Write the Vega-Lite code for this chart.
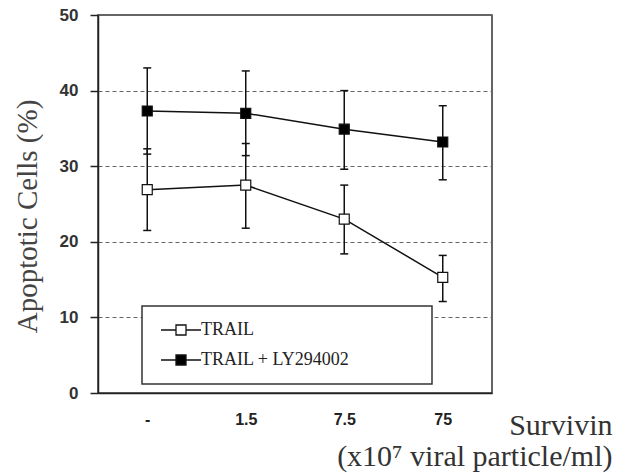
{
  "$schema": "https://vega.github.io/schema/vega-lite/v6.json",
  "width": 394,
  "height": 378,
  "autosize": "none",
  "padding": {"left": 98, "top": 15, "right": 136, "bottom": 80},
  "background": "white",
  "config": {
    "view": {"stroke": "#333", "strokeWidth": 1.5},
    "axisY": {
      "domainColor": "#222", "domainWidth": 1.5,
      "ticks": true, "tickSize": 8, "tickColor": "#222", "tickWidth": 1.5,
      "grid": true, "gridDash": [4, 3], "gridColor": "#666", "gridWidth": 1,
      "labelFont": "Liberation Sans", "labelFontWeight": "bold", "labelFontSize": 17, "labelColor": "#333", "labelPadding": 12,
      "titleFont": "Liberation Serif", "titleFontSize": 29, "titleFontWeight": "normal", "titleColor": "#444",
      "titleX": -62, "titleY": 201, "titleAlign": "center", "titleBaseline": "alphabetic", "titleAngle": 270
    },
    "axisX": {
      "domainColor": "#222", "domainWidth": 1.5,
      "ticks": false, "tickSize": 0, "grid": false,
      "labelAngle": 0,
      "labelFont": "Liberation Sans", "labelFontWeight": "bold", "labelFontSize": 16, "labelColor": "#222", "labelPadding": 18,
      "titleFont": "Liberation Serif", "titleFontSize": 30, "titleFontWeight": "normal", "titleColor": "#333",
      "titleX": 514, "titleY": 41, "titleAlign": "right", "titleBaseline": "alphabetic", "titleLineHeight": 31
    }
  },
  "data": {
    "values": [
      {"dose": "-", "series": "TRAIL", "mean": 26.9, "lo": 21.5, "hi": 32.3},
      {"dose": "1.5", "series": "TRAIL", "mean": 27.5, "lo": 21.8, "hi": 33.0},
      {"dose": "7.5", "series": "TRAIL", "mean": 23.0, "lo": 18.4, "hi": 27.5},
      {"dose": "75", "series": "TRAIL", "mean": 15.3, "lo": 12.1, "hi": 18.2},
      {"dose": "-", "series": "TRAIL + LY294002", "mean": 37.3, "lo": 31.6, "hi": 43.0},
      {"dose": "1.5", "series": "TRAIL + LY294002", "mean": 37.0, "lo": 31.4, "hi": 42.6},
      {"dose": "7.5", "series": "TRAIL + LY294002", "mean": 34.9, "lo": 29.6, "hi": 40.0},
      {"dose": "75", "series": "TRAIL + LY294002", "mean": 33.2, "lo": 28.2, "hi": 38.0}
    ]
  },
  "encoding": {
    "x": {
      "field": "dose", "type": "ordinal", "sort": ["-", "1.5", "7.5", "75"],
      "scale": {"type": "point", "padding": 0.5},
      "title": ["Survivin", "(x10⁷ viral particle/ml)"]
    }
  },
  "layer": [
    {
      "mark": {"type": "rule", "color": "#111", "strokeWidth": 1.5},
      "encoding": {
        "y": {"field": "lo", "type": "quantitative", "scale": {"domain": [0, 50]}, "title": "Apoptotic Cells (%)",
              "axis": {"values": [0, 10, 20, 30, 40, 50]}},
        "y2": {"field": "hi"},
        "detail": {"field": "series"}
      }
    },
    {
      "mark": {"type": "tick", "orient": "horizontal", "size": 8, "thickness": 1.5, "color": "#111", "opacity": 1},
      "encoding": {"y": {"field": "lo", "type": "quantitative", "title": "Apoptotic Cells (%)"}}
    },
    {
      "mark": {"type": "tick", "orient": "horizontal", "size": 8, "thickness": 1.5, "color": "#111", "opacity": 1},
      "encoding": {"y": {"field": "hi", "type": "quantitative", "title": "Apoptotic Cells (%)"}}
    },
    {
      "mark": {"type": "line", "color": "#111", "strokeWidth": 1.5},
      "encoding": {
        "y": {"field": "mean", "type": "quantitative", "title": "Apoptotic Cells (%)"},
        "detail": {"field": "series"}
      }
    },
    {
      "mark": {"type": "square", "size": 100, "filled": true, "stroke": "#111", "strokeWidth": 1.2, "opacity": 1},
      "encoding": {
        "y": {"field": "mean", "type": "quantitative", "title": "Apoptotic Cells (%)"},
        "fill": {
          "field": "series", "type": "nominal",
          "scale": {"domain": ["TRAIL", "TRAIL + LY294002"], "range": ["white", "black"]},
          "legend": {
            "title": null, "orient": "none", "legendX": 44, "legendY": 291,
            "fillColor": "white", "strokeColor": "#333",
            "padding": 15, "rowPadding": 12,
            "labelFont": "Liberation Serif", "labelFontSize": 18, "labelColor": "#222", "labelOffset": 11,
            "symbolType": "M-4,0H-1M1,0H4M-1,-1H1V1H-1ZM46.5,0",
            "symbolSize": 100, "symbolOffset": 15, "symbolStrokeColor": "#111", "symbolStrokeWidth": 1.3, "symbolOpacity": 1,
            "encode": {
              "legend": {"update": {"strokeWidth": {"value": 1.5}}}
            }
          }
        }
      }
    }
  ]
}
